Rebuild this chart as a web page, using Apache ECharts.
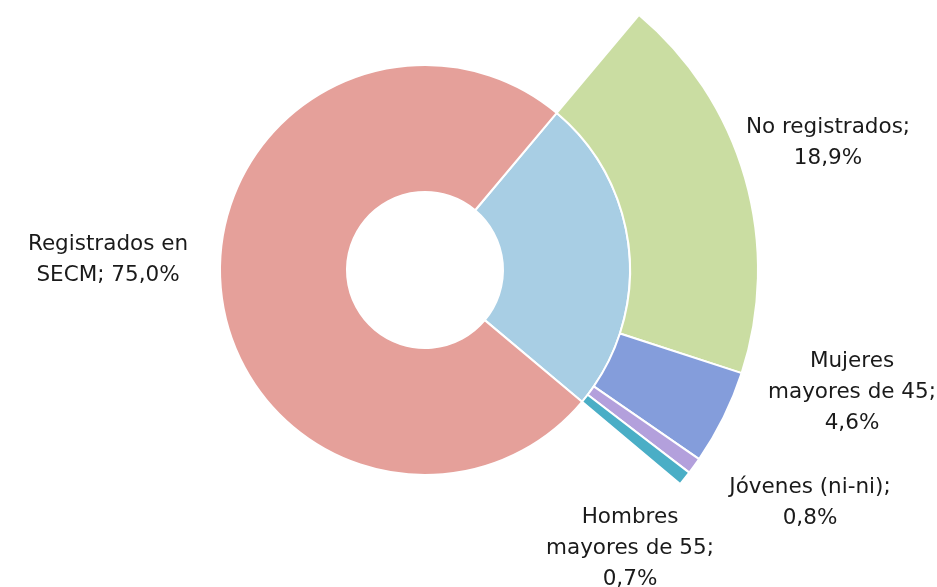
<!DOCTYPE html>
<html>
<head>
<meta charset="utf-8">
<script src="https://cdn.jsdelivr.net/npm/echarts@6/dist/echarts.min.js"></script>
<style>
  html, body { margin: 0; padding: 0; background: #fff; }
  #chart { width: 937px; height: 587px; }
</style>
</head>
<body>
<div id="chart"></div>
<script>
  // inner ring: registered vs. the rest
  var innerNames = ['Resto', 'Registrados en\nSECM']
  var innerValues = [25.0, 75.0]
  // outer ring: breakdown of the rest
  var outerNames = ['No registrados', 'Mujeres\nmayores de 45', 'Jóvenes (ni-ni)', 'Hombres\nmayores de 55']
  var outerValues = [18.9, 4.6, 0.8, 0.7]

  var innerColors = ['#a8cee4', '#e5a09a']
  var outerColors = ['#cadda2', '#849ddb', '#b3a0dc', '#4aaec6']
  // label anchor points (center of text block)
  var outerLabelPos = [[828, 143], [852, 392], [810, 503], [630, 548]]
  var innerLabelPos = [null, [108, 260]]

  function fmt(v) {
    return v.toFixed(1).replace('.', ',') + '%'
  }

  var font = '"DejaVu Sans", sans-serif'
  var chart = echarts.init(document.getElementById('chart'))

  var innerData = innerValues.map(function (v, i) {
    return {
      name: innerNames[i],
      value: v,
      itemStyle: { color: innerColors[i] },
      label: { show: i === 1 }
    }
  })
  var outerData = outerValues.map(function (v, i) {
    return { name: outerNames[i], value: v, itemStyle: { color: outerColors[i] } }
  })
  // hidden filler so the outer ring covers only the 25%
  outerData.push({
    name: 'hidden',
    value: innerValues[1],
    itemStyle: { color: 'rgba(0,0,0,0)', borderWidth: 0 },
    label: { show: false },
    emphasis: { disabled: true }
  })

  var labelBase = {
    position: 'outside',
    fontFamily: font,
    fontSize: 21.5,
    lineHeight: 31,
    color: '#1a1a1a',
    align: 'center',
    overflow: 'none',
    width: 300
  }

  chart.setOption({
    animation: false,
    series: [
      {
        type: 'pie',
        center: [425, 270],
        radius: [78, 205],
        startAngle: 50,
        clockwise: true,
        data: innerData,
        itemStyle: { borderColor: '#fff', borderWidth: 2 },
        label: Object.assign({}, labelBase, {
          formatter: function (p) { return p.name + '; ' + fmt(p.value) }
        }),
        labelLine: { show: false },
        labelLayout: function (p) {
          var pos = innerLabelPos[p.dataIndex]
          if (!pos) return {}
          return { x: pos[0], y: pos[1], align: 'center', verticalAlign: 'middle' }
        }
      },
      {
        type: 'pie',
        center: [425, 270],
        radius: [205, 333],
        startAngle: 50,
        clockwise: true,
        data: outerData,
        itemStyle: { borderColor: '#fff', borderWidth: 2 },
        label: Object.assign({}, labelBase, {
          formatter: function (p) { return p.name + ';\n' + fmt(p.value) }
        }),
        labelLine: { show: false },
        labelLayout: function (p) {
          var pos = outerLabelPos[p.dataIndex]
          if (!pos) return {}
          return { x: pos[0], y: pos[1], align: 'center', verticalAlign: 'middle' }
        }
      }
    ]
  })
</script>
</body>
</html>
